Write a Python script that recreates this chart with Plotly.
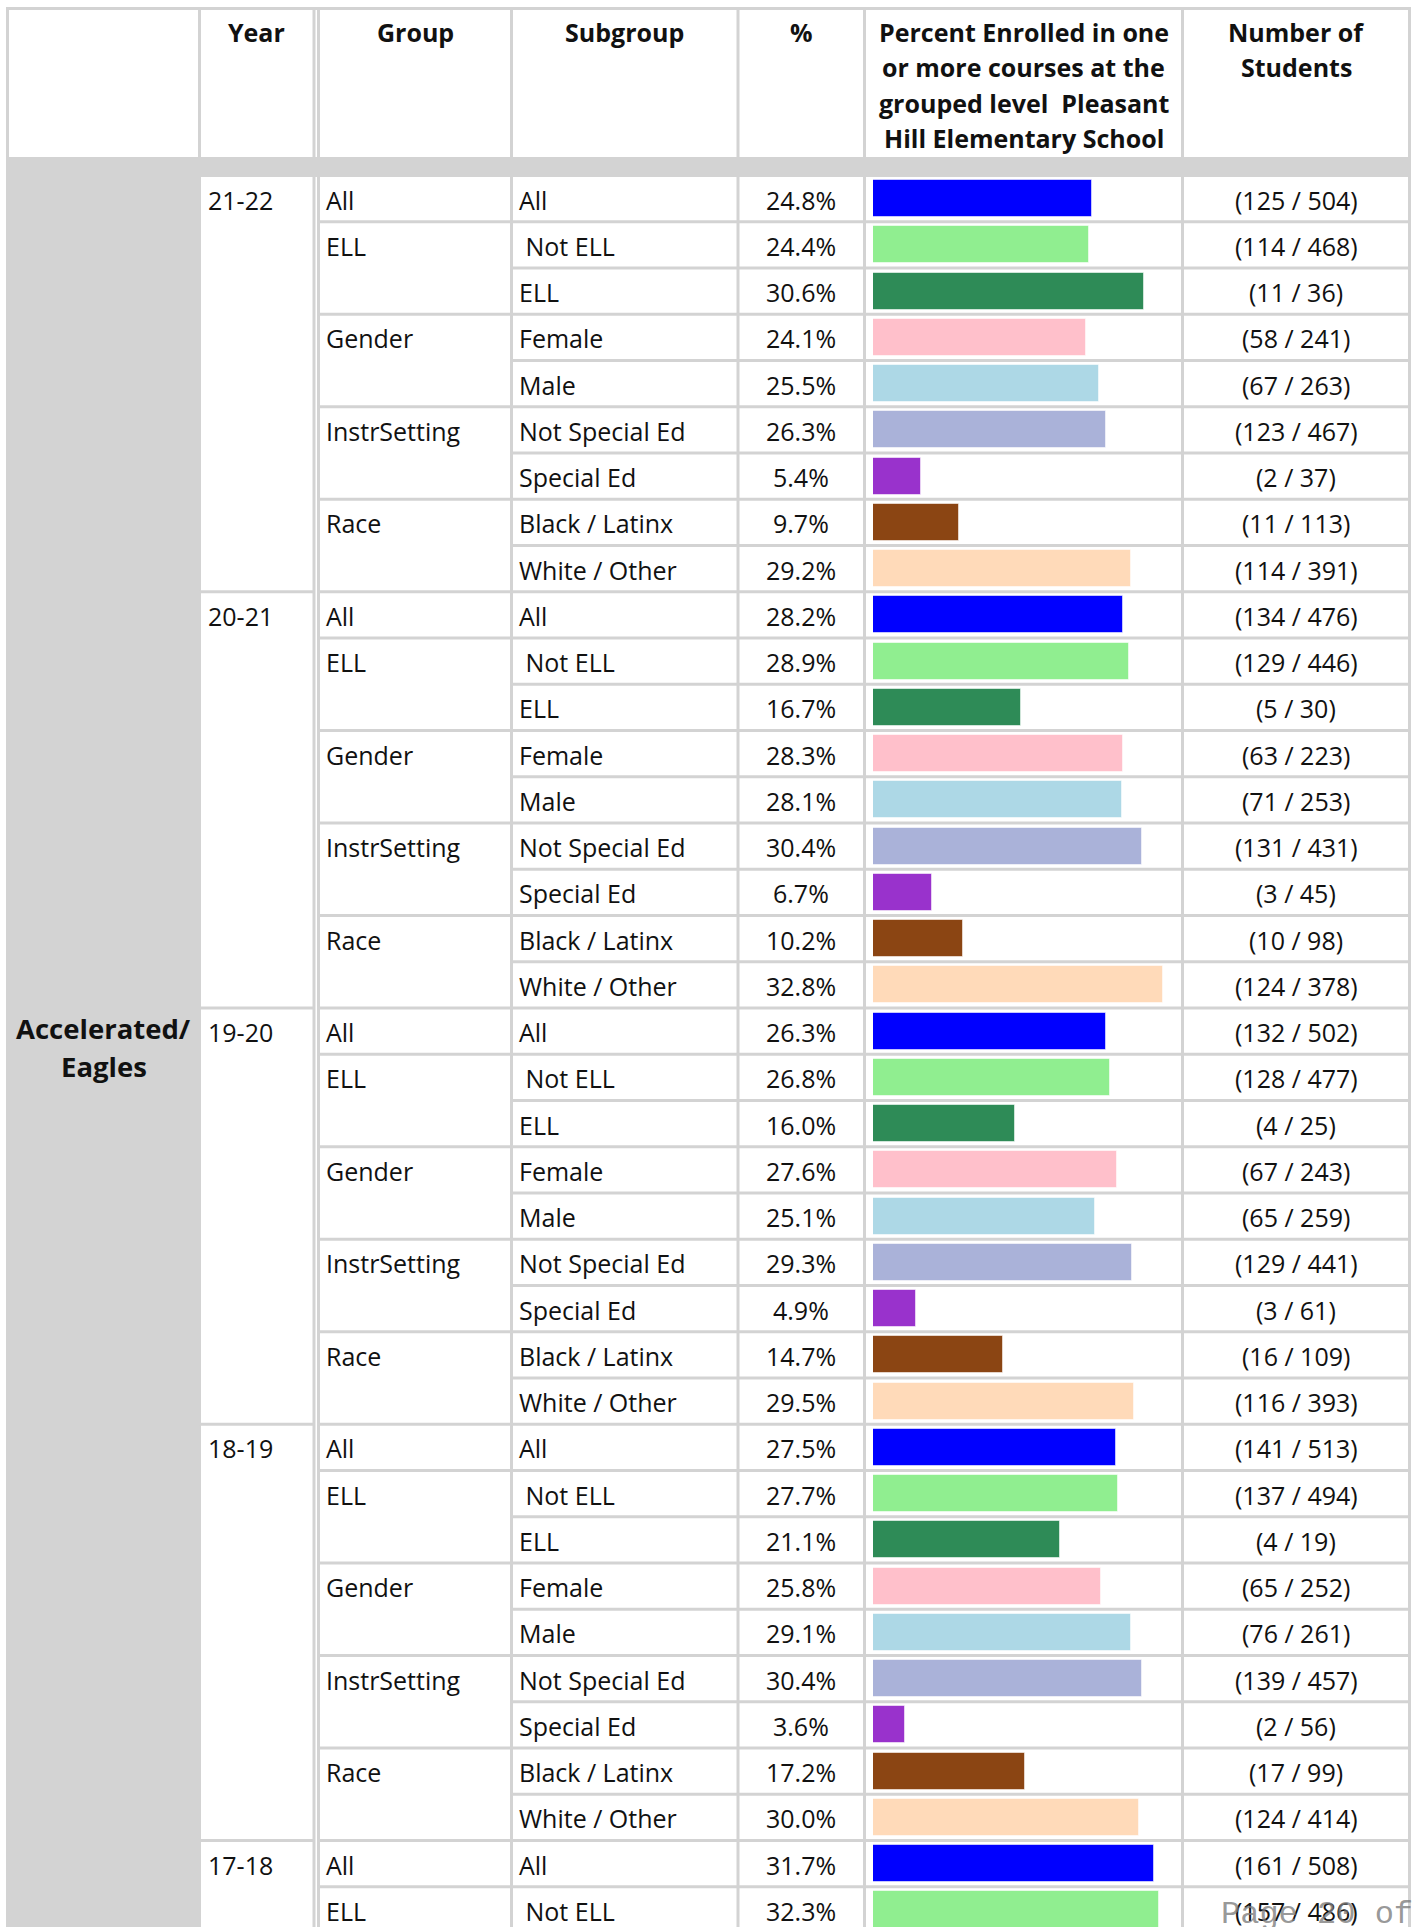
import plotly.graph_objects as go

# ---------------- data ----------------
category_lines = ["Accelerated/", "Eagles"]
years = ["21-22", "20-21", "19-20", "18-19", "17-18"]
groups = ["All", "ELL", "ELL", "Gender", "Gender", "InstrSetting", "InstrSetting", "Race", "Race"]
subgroups = ["All", "\u00a0Not ELL", "ELL", "Female", "Male", "Not Special Ed", "Special Ed",
             "Black / Latinx", "White / Other"]
subgroup_colors = ["#0000ff", "#90ee90", "#2e8b57", "#ffc0cb", "#add8e6", "#aab2d9",
                   "#9932cc", "#8b4513", "#ffdab9"]

pct_2122 = [24.8, 24.4, 30.6, 24.1, 25.5, 26.3, 5.4, 9.7, 29.2]
num_2122 = [125, 114, 11, 58, 67, 123, 2, 11, 114]
den_2122 = [504, 468, 36, 241, 263, 467, 37, 113, 391]

pct_2021 = [28.2, 28.9, 16.7, 28.3, 28.1, 30.4, 6.7, 10.2, 32.8]
num_2021 = [134, 129, 5, 63, 71, 131, 3, 10, 124]
den_2021 = [476, 446, 30, 223, 253, 431, 45, 98, 378]

pct_1920 = [26.3, 26.8, 16.0, 27.6, 25.1, 29.3, 4.9, 14.7, 29.5]
num_1920 = [132, 128, 4, 67, 65, 129, 3, 16, 116]
den_1920 = [502, 477, 25, 243, 259, 441, 61, 109, 393]

pct_1819 = [27.5, 27.7, 21.1, 25.8, 29.1, 30.4, 3.6, 17.2, 30.0]
num_1819 = [141, 137, 4, 65, 76, 139, 2, 17, 124]
den_1819 = [513, 494, 19, 252, 261, 457, 56, 99, 414]

pct_1718 = [31.7, 32.3]
num_1718 = [161, 157]
den_1718 = [508, 486]

headers = [["Year"], ["Group"], ["Subgroup"], ["%"],
           ["Percent Enrolled in one", "or more courses at the",
            "grouped level\u00a0\u00a0Pleasant", "Hill Elementary School"],
           ["Number of", "Students"]]
footer = "Page 20 of"

pcts = [pct_2122, pct_2021, pct_1920, pct_1819, pct_1718]
nums = [num_2122, num_2021, num_1920, num_1819, num_1718]
dens = [den_2122, den_2021, den_1920, den_1819, den_1718]

# ---------------- layout geometry (pixels) ----------------
W, H = 1416, 1927
ROW_TOP = 175.5
ROW_H = 46.25
LINE = "#d3d3d3"
LW = 3
X_L, X_CAT, X_Y2a, X_Y2b, X_SUB, X_PCT, X_BAR, X_NUM, X_R = 7.5, 199.5, 314, 318.5, 511.5, 738, 864.5, 1182.5, 1409.5
BAR_X0 = 873
PX_PER_PCT = 8.85
FONT = "Open Sans, Noto Sans, sans-serif"
FS = 25
HDR_Y0 = 31.5
HDR_LH = 35.6

def rc(i):
    return ROW_TOP + ROW_H * (i + 0.5)

rows = []
for yi, yr in enumerate(years):
    for j in range(len(pcts[yi])):
        rows.append((yi, j, yr))

fig = go.Figure()

# bars
bar_y, bar_x, bar_c = [], [], []
for k, (yi, j, yr) in enumerate(rows):
    bar_y.append(rc(k))
    bar_x.append(pcts[yi][j])
    bar_c.append(subgroup_colors[j])
fig.add_trace(go.Bar(x=bar_x, y=bar_y, orientation="h", width=37, xaxis="x2", yaxis="y",
                     marker=dict(color=bar_c, line=dict(color="rgba(255,255,255,0.55)", width=1)),
                     hoverinfo="skip", showlegend=False))

shapes = []
def hline(x0, x1, y):
    shapes.append(dict(type="line", xref="x", yref="y", x0=x0, x1=x1, y0=y, y1=y,
                       line=dict(color=LINE, width=LW), layer="below"))
def vline(x, y0, y1):
    shapes.append(dict(type="line", xref="x", yref="y", x0=x, x1=x, y0=y0, y1=y1,
                       line=dict(color=LINE, width=LW), layer="below"))

# gray backgrounds
shapes.append(dict(type="rect", xref="x", yref="y", x0=X_L - 1, x1=X_R + 1.5, y0=157, y1=177,
                   fillcolor=LINE, line=dict(width=0), layer="below"))
shapes.append(dict(type="rect", xref="x", yref="y", x0=X_L - 1, x1=X_CAT + 1, y0=157, y1=H + 5,
                   fillcolor=LINE, line=dict(width=0), layer="below"))

# outer/top borders and verticals
hline(X_L - 1.5, X_R + 1.5, 8.5)
for x in [X_L, X_CAT, X_Y2a, X_Y2b, X_SUB, X_PCT, X_BAR, X_NUM, X_R]:
    vline(x, 7, H + 5)

# horizontal row lines
n_rows = len(rows)
for k in range(1, n_rows + 1):
    y = ROW_TOP + ROW_H * k
    hline(X_SUB, X_R, y)
    m = k % 9
    if m in (0, 1, 3, 5, 7):
        hline(X_Y2b, X_SUB, y)
    if m == 0:
        hline(X_CAT, X_Y2a, y)

annotations = []
def txt(x, y, s, xanchor="left", size=FS, bold=False, color="#111111", family=FONT):
    annotations.append(dict(x=x, y=y, xref="x", yref="y", text=("<b>%s</b>" % s) if bold else s,
                            showarrow=False, xanchor=xanchor, yanchor="middle",
                            font=dict(family=family, size=size, color=color)))

# headers
hdr_x = [(X_CAT + X_Y2a) / 2, (X_Y2b + X_SUB) / 2, (X_SUB + X_PCT) / 2, (X_PCT + X_BAR) / 2,
         (X_BAR + X_NUM) / 2, (X_NUM + X_R) / 2]
for hx, hl in zip(hdr_x, headers):
    for li, line in enumerate(hl):
        txt(hx, HDR_Y0 + HDR_LH * li, line, xanchor="center", bold=True)

# body
for k, (yi, j, yr) in enumerate(rows):
    y = rc(k) + 1
    if j == 0:
        txt(X_CAT + 6, y, yr)
    if j == 0 or groups[j] != groups[j - 1]:
        txt(X_Y2b + 5, y, groups[j])
    txt(X_SUB + 5, y, subgroups[j])
    txt((X_PCT + X_BAR) / 2, y, "%.1f%%" % pcts[yi][j], xanchor="center")
    txt((X_NUM + X_R) / 2, y, "(%d / %d)" % (nums[yi][j], dens[yi][j]), xanchor="center")

for li, line in enumerate(category_lines):
    txt((X_L + X_CAT) / 2, 1028 + 38 * li, line, xanchor="center", size=27.5, bold=True)

annotations.append(dict(x=1219, y=1914, xref="x", yref="y", text=footer, showarrow=False,
                        xanchor="left", yanchor="middle",
                        font=dict(family="Liberation Mono, Courier New, monospace", size=32,
                                  color="rgba(125,125,125,0.8)")))

fig.update_layout(
    width=W, height=H, margin=dict(l=0, r=0, t=0, b=0),
    paper_bgcolor="white", plot_bgcolor="rgba(0,0,0,0)",
    xaxis=dict(range=[0, W], domain=[0, 1], visible=False, fixedrange=True),
    xaxis2=dict(range=[0, (X_NUM - BAR_X0) / PX_PER_PCT], domain=[BAR_X0 / W, X_NUM / W],
                anchor="y", visible=False, fixedrange=True),
    yaxis=dict(range=[H, 0], domain=[0, 1], visible=False, fixedrange=True),
    shapes=shapes, annotations=annotations, bargap=0,
)

fig.write_html("out.html")
